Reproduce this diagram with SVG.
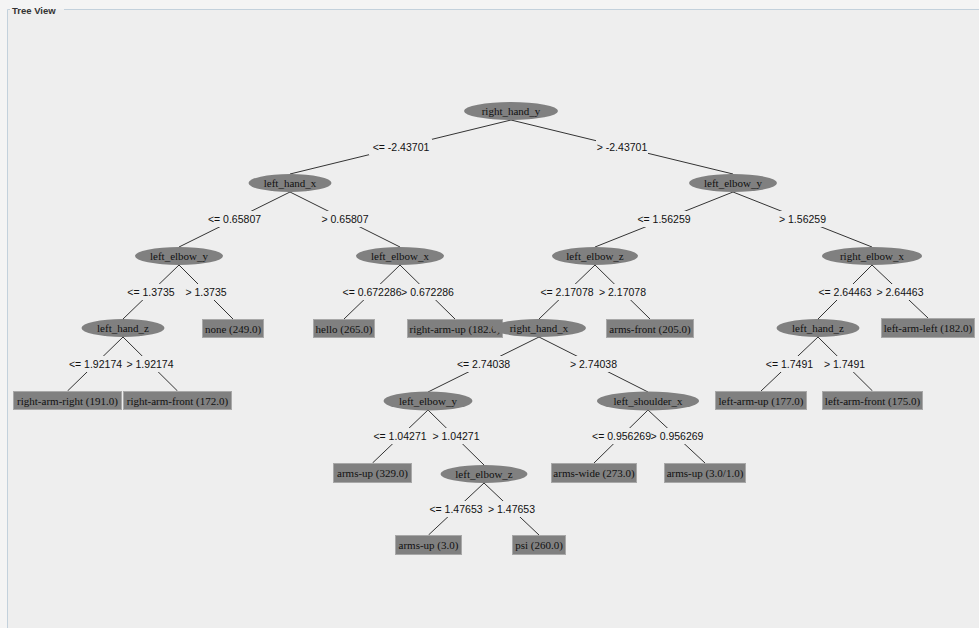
<svg xmlns="http://www.w3.org/2000/svg" width="979" height="628" viewBox="0 0 979 628">
<style>
.bg{fill:#eeeeee}
.frame{stroke:#c3d1dc;stroke-width:1;fill:none}
.title{font-family:"Liberation Sans",Arial,sans-serif;font-size:9.5px;font-weight:bold;fill:#333333}
.edge{stroke:#333333;stroke-width:1;fill:none}
.lbg{fill:#eeeeee}
.lbl{font-family:"Liberation Sans",Arial,sans-serif;font-size:10.5px;fill:#111111;text-anchor:middle}
.inner{fill:#808080}
.leaf{fill:#808080;stroke:#a8a8a8;stroke-width:1}
.nt{font-family:"Liberation Serif","Times New Roman",serif;font-size:11px;fill:#111111;text-anchor:middle}
</style>
<rect x="0" y="0" width="979" height="628" fill="#f4f4f4"/>
<rect class="bg" x="7.5" y="9.5" width="972" height="619"/>
<path class="frame" d="M7.5,628 L7.5,9.5 L10,9.5 M64,9.5 L979,9.5"/>
<text class="title" x="12" y="14">Tree View</text>

<g id="connectors">
<line class="edge" x1="511" y1="120" x2="290" y2="174"/>
<line class="edge" x1="511" y1="120" x2="733" y2="174"/>
<line class="edge" x1="290" y1="192" x2="179" y2="247"/>
<line class="edge" x1="290" y1="192" x2="400" y2="247"/>
<line class="edge" x1="733" y1="192" x2="595" y2="247"/>
<line class="edge" x1="733" y1="192" x2="872" y2="247"/>
<line class="edge" x1="179" y1="265" x2="123" y2="319"/>
<line class="edge" x1="179" y1="265" x2="233" y2="319"/>
<line class="edge" x1="400" y1="265" x2="344" y2="319"/>
<line class="edge" x1="400" y1="265" x2="455" y2="319"/>
<line class="edge" x1="595" y1="265" x2="539" y2="319"/>
<line class="edge" x1="595" y1="265" x2="650" y2="319"/>
<line class="edge" x1="872" y1="265" x2="818" y2="319"/>
<line class="edge" x1="872" y1="265" x2="928" y2="318"/>
<line class="edge" x1="123" y1="337" x2="67.5" y2="391"/>
<line class="edge" x1="123" y1="337" x2="177.5" y2="391"/>
<line class="edge" x1="539" y1="337" x2="428" y2="392"/>
<line class="edge" x1="539" y1="337" x2="648" y2="392"/>
<line class="edge" x1="818" y1="337" x2="761" y2="391"/>
<line class="edge" x1="818" y1="337" x2="872.5" y2="391"/>
<line class="edge" x1="428" y1="410" x2="372.5" y2="463"/>
<line class="edge" x1="428" y1="410" x2="484" y2="465"/>
<line class="edge" x1="648" y1="410" x2="594" y2="463"/>
<line class="edge" x1="648" y1="410" x2="705" y2="463"/>
<line class="edge" x1="484" y1="483" x2="428.5" y2="535"/>
<line class="edge" x1="484" y1="483" x2="539" y2="535"/>

<rect class="lbg" x="369" y="139" width="63" height="16"/>
<rect class="lbg" x="596" y="139" width="52" height="16"/>
<rect class="lbg" x="206" y="211" width="57" height="16"/>
<rect class="lbg" x="320" y="211" width="51" height="16"/>
<rect class="lbg" x="636" y="211" width="57" height="16"/>
<rect class="lbg" x="777" y="211" width="51" height="16"/>
<rect class="lbg" x="126" y="284" width="50" height="16"/>
<rect class="lbg" x="184" y="284" width="44" height="16"/>
<rect class="lbg" x="342" y="284" width="60" height="16"/>
<rect class="lbg" x="401" y="284" width="53" height="16"/>
<rect class="lbg" x="538" y="284" width="57" height="16"/>
<rect class="lbg" x="598" y="284" width="50" height="16"/>
<rect class="lbg" x="817" y="284" width="57" height="16"/>
<rect class="lbg" x="875" y="284" width="50" height="16"/>
<rect class="lbg" x="67" y="356" width="57" height="16"/>
<rect class="lbg" x="125" y="356" width="50" height="16"/>
<rect class="lbg" x="455" y="356" width="57" height="16"/>
<rect class="lbg" x="568" y="356" width="51" height="16"/>
<rect class="lbg" x="764" y="356" width="51" height="16"/>
<rect class="lbg" x="822" y="356" width="45" height="16"/>
<rect class="lbg" x="372" y="428" width="57" height="16"/>
<rect class="lbg" x="431" y="428" width="50" height="16"/>
<rect class="lbg" x="592" y="428" width="59" height="16"/>
<rect class="lbg" x="651" y="428" width="53" height="16"/>
<rect class="lbg" x="428" y="501" width="57" height="16"/>
<rect class="lbg" x="487" y="501" width="50" height="16"/>

<text class="lbl" x="401" y="150.5">&lt;= -2.43701</text>
<text class="lbl" x="622" y="150.5">&gt; -2.43701</text>
<text class="lbl" x="234.5" y="223">&lt;= 0.65807</text>
<text class="lbl" x="345" y="223">&gt; 0.65807</text>
<text class="lbl" x="664" y="223">&lt;= 1.56259</text>
<text class="lbl" x="802.5" y="223">&gt; 1.56259</text>
<text class="lbl" x="151" y="295.5">&lt;= 1.3735</text>
<text class="lbl" x="206" y="295.5">&gt; 1.3735</text>
<text class="lbl" x="372" y="295.5">&lt;= 0.672286</text>
<text class="lbl" x="427.5" y="295.5">&gt; 0.672286</text>
<text class="lbl" x="567" y="295.5">&lt;= 2.17078</text>
<text class="lbl" x="622.5" y="295.5">&gt; 2.17078</text>
<text class="lbl" x="845" y="295.5">&lt;= 2.64463</text>
<text class="lbl" x="900" y="295.5">&gt; 2.64463</text>
<text class="lbl" x="95.5" y="367.5">&lt;= 1.92174</text>
<text class="lbl" x="150" y="367.5">&gt; 1.92174</text>
<text class="lbl" x="483.5" y="367.5">&lt;= 2.74038</text>
<text class="lbl" x="593.5" y="367.5">&gt; 2.74038</text>
<text class="lbl" x="789.5" y="367.5">&lt;= 1.7491</text>
<text class="lbl" x="844.5" y="367.5">&gt; 1.7491</text>
<text class="lbl" x="400" y="440">&lt;= 1.04271</text>
<text class="lbl" x="456" y="440">&gt; 1.04271</text>
<text class="lbl" x="621.5" y="440">&lt;= 0.956269</text>
<text class="lbl" x="677" y="440">&gt; 0.956269</text>
<text class="lbl" x="456" y="512.5">&lt;= 1.47653</text>
<text class="lbl" x="511.5" y="512.5">&gt; 1.47653</text>
</g>

<g id="n0"><ellipse class="inner" cx="511" cy="111" rx="47" ry="9"/><text class="nt" x="511" y="115">right_hand_y</text></g>
<g id="n1"><ellipse class="inner" cx="290" cy="183" rx="41.5" ry="9"/><text class="nt" x="290" y="187">left_hand_x</text></g>
<g id="n2"><ellipse class="inner" cx="733" cy="183" rx="44" ry="9"/><text class="nt" x="733" y="187">left_elbow_y</text></g>
<g id="n3"><ellipse class="inner" cx="179" cy="256" rx="44" ry="9"/><text class="nt" x="179" y="260">left_elbow_y</text></g>
<g id="n4"><ellipse class="inner" cx="400" cy="256" rx="44" ry="9"/><text class="nt" x="400" y="260">left_elbow_x</text></g>
<g id="n5"><ellipse class="inner" cx="595" cy="256" rx="43" ry="9"/><text class="nt" x="595" y="260">left_elbow_z</text></g>
<g id="n6"><ellipse class="inner" cx="872" cy="256" rx="50" ry="9"/><text class="nt" x="872" y="260">right_elbow_x</text></g>
<g id="n7"><ellipse class="inner" cx="123" cy="328" rx="41.5" ry="9"/><text class="nt" x="123" y="332">left_hand_z</text></g>
<g id="n8"><rect class="leaf" x="202.5" y="319.5" width="61" height="18"/><text class="nt" x="233" y="332.5">none (249.0)</text></g>
<g id="n9"><rect class="leaf" x="313.5" y="319.5" width="61" height="18"/><text class="nt" x="344" y="332.5">hello (265.0)</text></g>
<g id="n10"><rect class="leaf" x="407.5" y="319.5" width="95" height="18"/><text class="nt" x="455" y="332.5">right-arm-up (182.0)</text></g>
<g id="n11"><ellipse class="inner" cx="539" cy="328" rx="47" ry="9"/><text class="nt" x="539" y="332">right_hand_x</text></g>
<g id="n12"><rect class="leaf" x="606.5" y="319.5" width="87" height="18"/><text class="nt" x="650" y="332.5">arms-front (205.0)</text></g>
<g id="n13"><ellipse class="inner" cx="818" cy="328" rx="41.5" ry="9"/><text class="nt" x="818" y="332">left_hand_z</text></g>
<g id="n14"><rect class="leaf" x="881.5" y="318.5" width="93" height="19"/><text class="nt" x="928" y="332">left-arm-left (182.0)</text></g>
<g id="n15"><rect class="leaf" x="13.5" y="391.5" width="108" height="18"/><text class="nt" x="67.5" y="404.5">right-arm-right (191.0)</text></g>
<g id="n16"><rect class="leaf" x="123.5" y="391.5" width="108" height="18"/><text class="nt" x="177.5" y="404.5">right-arm-front (172.0)</text></g>
<g id="n17"><ellipse class="inner" cx="428" cy="401" rx="44.5" ry="9.5"/><text class="nt" x="428" y="405">left_elbow_y</text></g>
<g id="n18"><ellipse class="inner" cx="648" cy="401" rx="51" ry="9.5"/><text class="nt" x="648" y="405">left_shoulder_x</text></g>
<g id="n19"><rect class="leaf" x="715.5" y="391.5" width="91" height="18"/><text class="nt" x="761" y="404.5">left-arm-up (177.0)</text></g>
<g id="n20"><rect class="leaf" x="822.5" y="391.5" width="100" height="18"/><text class="nt" x="872.5" y="404.5">left-arm-front (175.0)</text></g>
<g id="n21"><rect class="leaf" x="333.5" y="463.5" width="78" height="19"/><text class="nt" x="372.5" y="477">arms-up (329.0)</text></g>
<g id="n22"><ellipse class="inner" cx="484" cy="474" rx="43.5" ry="9"/><text class="nt" x="484" y="478">left_elbow_z</text></g>
<g id="n23"><rect class="leaf" x="551.5" y="463.5" width="85" height="19"/><text class="nt" x="594" y="477">arms-wide (273.0)</text></g>
<g id="n24"><rect class="leaf" x="664.5" y="463.5" width="81" height="19"/><text class="nt" x="705" y="477">arms-up (3.0/1.0)</text></g>
<g id="n25"><rect class="leaf" x="395.5" y="535.5" width="66" height="19"/><text class="nt" x="428.5" y="549">arms-up (3.0)</text></g>
<g id="n26"><rect class="leaf" x="512.5" y="535.5" width="53" height="19"/><text class="nt" x="539" y="549">psi (260.0)</text></g>
</svg>
